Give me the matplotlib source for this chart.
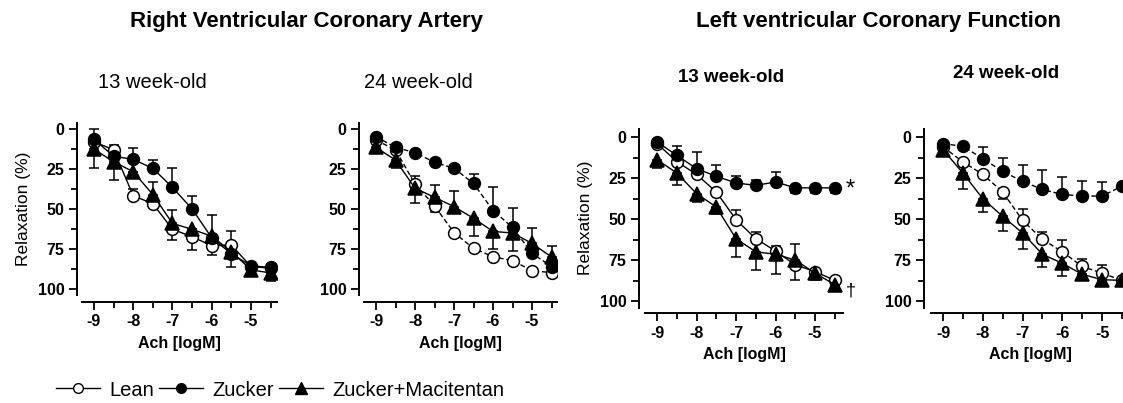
import numpy as np
import matplotlib
matplotlib.use("Agg")
import matplotlib.pyplot as plt
from matplotlib.lines import Line2D
from matplotlib.ticker import MultipleLocator

plt.rcParams["font.family"] = ["Liberation Sans", "DejaVu Sans"]

# Ach concentrations (log M)
conc = [-9, -8.5, -8, -7.5, -7, -6.5, -6, -5.5, -5, -4.5]

# Right ventricular coronary artery, 13 week-old
rv13_lean = [8, 13, 41.7, 46.7, 62.7, 67.3, 73, 72.5, 86, 87]
rv13_zucker = [6.5, 17, 19, 24.6, 36.5, 50, 68, 78, 85.5, 86.5]
rv13_mac = [12.7, 20.4, 26.7, 41, 59, 62.7, 67, 76.7, 88, 90]
# signed SEM: + goes towards higher relaxation, - towards lower
rv13_lean_err = [0, -3, -4, 0, 6.5, 8.3, 6, -8.5, -2, 0]
rv13_zucker_err = [-6.5, 0, -7, -5, -12, -8, -14, 8, 0, -2]
rv13_mac_err = [11.5, 11.5, 0, -8, -8.4, 0, 0, 0, 2, 5]

# Right ventricular coronary artery, 24 week-old
rv24_lean = [7, 13, 34.4, 48, 64.8, 74.6, 79.8, 82.3, 88.5, 89.8]
rv24_zucker = [4.8, 11.5, 14.8, 20.8, 24.6, 34, 51, 61.5, 77.7, 86]
rv24_mac = [11.5, 19.4, 37, 42.7, 48.5, 55.8, 64, 65, 71.5, 80]
rv24_lean_err = [0, 0, -5, 4, 0, 0, 0, 0, 2, 0]
rv24_zucker_err = [0, 0, 0, 0, 0, -6, -15, -12, 0, 0]
rv24_mac_err = [3, 5, 9, -8, -10, 11, 11, 11, -9.5, -7]

# Left ventricular coronary function, 13 week-old
lv13_lean = [4, 15, 22.8, 33.5, 50.4, 62, 69.5, 78, 82, 87.4]
lv13_zucker = [3, 11.2, 19.3, 24, 28, 29.5, 27.4, 31, 31, 31]
lv13_mac = [13.8, 22, 34.5, 42.7, 62, 70, 71.5, 75, 83, 90]
lv13_lean_err = [0, 0, 0, 0, -6, -4, -3, 9, 0, 0]
lv13_zucker_err = [0, -6, -10, -7, -4, -3, -6, 3, 3, 3]
lv13_mac_err = [5, 7, 5, 4, 11, 11, 12, -9.5, 4, 3]

# Left ventricular coronary function, 24 week-old
lv24_lean = [6, 15.2, 22.8, 33.5, 50.8, 62.4, 70, 78.9, 83, 87.4]
lv24_zucker = [4, 5.7, 13.2, 21, 27, 32, 35, 36, 36, 30]
lv24_mac = [7.7, 22, 37.6, 48.4, 58.5, 71.5, 77, 83.7, 87, 87.4]
lv24_lean_err = [0, 0, 0, 4.5, -7, -4.4, -7, -4.3, -5, 0]
lv24_zucker_err = [0, 0, -7, -8, -10, -12, -10.6, -9, -8.6, 0]
lv24_mac_err = [0, 9.5, 8, 9, 10, 7.5, 8, 0, 0, 0]

W, H = 1123, 403
fig = plt.figure(figsize=(W / 100, H / 100), dpi=100)


def px_axes(left, top, right, bottom):
    return fig.add_axes([left / W, (H - bottom) / H, (right - left) / W, (bottom - top) / H])


def draw_series(ax, y, err, style, dashed):
    y = np.array(y, dtype=float)
    e = np.array(err, dtype=float)
    lo = np.where(e < 0, -e, 0)
    hi = np.where(e > 0, e, 0)
    if style == "lean":
        mk, fc, ms = "o", "white", 8.5
    elif style == "zucker":
        mk, fc, ms = "o", "black", 8.5
    else:
        mk, fc, ms = "^", "black", 9.5
    ls = (0, (3.5, 2.0)) if dashed else "-"
    ax.errorbar(conc, y, yerr=[lo, hi], fmt="none", ecolor="black",
                elinewidth=1.1, capsize=3.6, capthick=1.1, zorder=2)
    ax.plot(conc, y, color="black", lw=1.0, ls=ls, marker=mk, ms=ms,
            mfc=fc, mec="black", mew=1.1, zorder=3)


def style_axes(ax, xlim, ylim, left_off, bottom_off, ylabel):
    ax.set_xlim(*xlim)
    ax.set_ylim(*ylim)
    for s in ["top", "right"]:
        ax.spines[s].set_visible(False)
    ax.spines["left"].set_position(("outward", left_off))
    ax.spines["bottom"].set_position(("outward", bottom_off))
    for s in ["left", "bottom"]:
        ax.spines[s].set_linewidth(1.4)
    ax.set_yticks([0, 25, 50, 75, 100])
    ax.yaxis.set_minor_locator(MultipleLocator(12.5))
    ax.set_xticks([-9, -8, -7, -6, -5])
    ax.set_xticklabels(["-9", "-8", "-7", "-6", "-5"])
    ax.xaxis.set_minor_locator(MultipleLocator(0.5))
    ax.tick_params(which="major", length=6, width=1.3, labelsize=11.5, pad=3)
    ax.tick_params(which="minor", length=4, width=1.3)
    for lab in ax.get_xticklabels() + ax.get_yticklabels():
        lab.set_fontweight("bold")
    ax.set_xlabel("Ach [logM]", fontsize=11.5, fontweight="bold", labelpad=5)
    if ylabel:
        ax.set_ylabel("Relaxation (%)", fontsize=12.5, labelpad=5)


ax1 = px_axes(82.2, 122.6, 276.5, 295.4)
ax2 = px_axes(364.3, 122.6, 557.4, 295.4)
ax3 = px_axes(645.2, 128.8, 842.7, 307.6)
ax4 = px_axes(931.1, 128.8, 1129.9, 307.6)

panels = [
    (ax1, rv13_lean, rv13_zucker, rv13_mac, rv13_lean_err, rv13_zucker_err, rv13_mac_err, False),
    (ax2, rv24_lean, rv24_zucker, rv24_mac, rv24_lean_err, rv24_zucker_err, rv24_mac_err, True),
    (ax3, lv13_lean, lv13_zucker, lv13_mac, lv13_lean_err, lv13_zucker_err, lv13_mac_err, False),
    (ax4, lv24_lean, lv24_zucker, lv24_mac, lv24_lean_err, lv24_zucker_err, lv24_mac_err, True),
]
for ax, ln, zk, mc, lne, zke, mce, dashed in panels:
    draw_series(ax, ln, lne, "lean", dashed)
    draw_series(ax, zk, zke, "zucker", dashed)
    draw_series(ax, mc, mce, "mac", False)

style_axes(ax1, (-9.3, -4.35), (104, -4), 3.7, 4.75, True)
style_axes(ax2, (-9.3, -4.35), (104, -4), 3.8, 4.75, False)
style_axes(ax3, (-9.3, -4.3), (104, -5), 4.4, 3.9, True)
style_axes(ax4, (-9.3, -4.3), (104, -5), 5.0, 3.9, False)

# significance marks
ax3.text(-4.1, 32, "*", fontsize=17, ha="center", va="center", clip_on=False)
ax3.text(-4.1, 94, "\u2020", fontsize=13, ha="center", va="center", clip_on=False)

# titles
fig.text(306 / W, 1 - 21 / H, "Right Ventricular Coronary Artery", fontsize=16,
         fontweight="bold", ha="center", va="center")
fig.text(878 / W, 1 - 21 / H, "Left ventricular Coronary Function", fontsize=16,
         fontweight="bold", ha="center", va="center")
fig.text(152 / W, 1 - 82 / H, "13 week-old", fontsize=14.5, ha="center", va="center")
fig.text(418 / W, 1 - 82 / H, "24 week-old", fontsize=14.5, ha="center", va="center")
fig.text(731 / W, 1 - 77 / H, "13 week-old", fontsize=13.5, fontweight="bold",
         ha="center", va="center")
fig.text(1006 / W, 1 - 73 / H, "24 week-old", fontsize=13.5, fontweight="bold",
         ha="center", va="center")

# legend
handles = [
    Line2D([], [], color="black", lw=1.0, marker="o", ms=7, mfc="white", mec="black", mew=1.0),
    Line2D([], [], color="black", lw=1.0, marker="o", ms=7, mfc="black", mec="black"),
    Line2D([], [], color="black", lw=1.0, marker="^", ms=8, mfc="black", mec="black"),
]
fig.legend(handles, ["Lean", "Zucker", "Zucker+Macitentan"], ncol=3,
           loc="center left", bbox_to_anchor=(56 / W, 1 - 390 / H), frameon=False,
           fontsize=14.5, handlelength=2.2, handletextpad=0.45, columnspacing=0.25,
           borderpad=0, borderaxespad=0)

fig.savefig("out.png", dpi=100)
